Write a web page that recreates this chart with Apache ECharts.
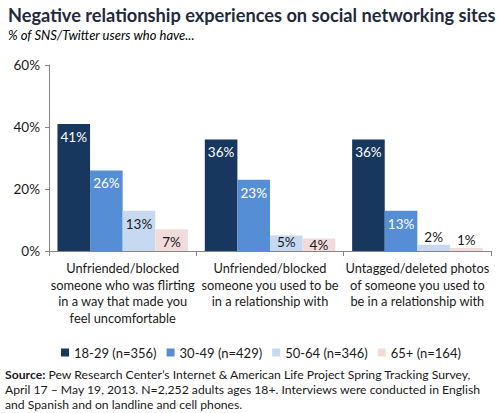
<!DOCTYPE html>
<html>
<head>
<meta charset="utf-8">
<script src="https://cdn.jsdelivr.net/npm/echarts@6/dist/echarts.min.js"></script>
<style>
  html, body { margin: 0; padding: 0; background: #fff; }
  #chart { width: 497px; height: 413px; }
</style>
</head>
<body>
<div id="chart"></div>
<script>
var categories = [
  'Unfriended/blocked\nsomeone who was flirting\nin a way that made you\nfeel uncomfortable',
  'Unfriended/blocked\nsomeone you used to be\nin a relationship with',
  'Untagged/deleted photos\nof someone you used to\nbe in a relationship with'
];
var seriesNames = ['18-29 (n=356)', '30-49 (n=429)', '50-64 (n=346)', '65+ (n=164)'];
var age18to29 = [41, 36, 36];
var age30to49 = [26, 23, 13];
var age50to64 = [13, 5, 2];
var age65plus = [7, 4, 1];
var yTicks = [0, 20, 40, 60];

var colors = ['#17375e', '#558ed5', '#c6d9f1', '#f2dcdb'];
var font = 'Lato, "Open Sans", sans-serif';

function labelFor(v) {
  if (v > 5) return { position: 'insideTop', distance: 6 };
  if (v >= 4) return { position: 'insideTop', distance: -1 };
  return { position: 'top', distance: 1 };
}

function makeSeries(name, values, color, labelColor) {
  return {
    name: name,
    type: 'bar',
    barGap: 0,
    barCategoryGap: '11.5%',
    data: values.map(function(v) {
      return { value: v, label: labelFor(v) };
    }),
    itemStyle: { color: color },
    label: {
      show: true,
      formatter: '{c}%',
      color: labelColor,
      fontFamily: font,
      fontSize: 13.5
    }
  };
}

var chart = echarts.init(document.getElementById('chart'), null, { renderer: 'svg' });
chart.setOption({
  animation: false,
  title: {
    text: 'Negative relationship experiences on social networking sites',
    left: 3, top: 1,
    textStyle: { color: '#1f2a3c', fontFamily: font, fontWeight: 'bold', fontSize: 18.2 },
    subtext: '% of SNS/Twitter users who have...',
    subtextStyle: { color: '#000', fontFamily: font, fontStyle: 'italic', fontSize: 13 },
    itemGap: 4
  },
  legend: {
    data: seriesNames,
    left: 56, top: 341,
    icon: 'rect', itemWidth: 8, itemHeight: 8, itemGap: 10,
    textStyle: { color: '#1a1a1a', fontFamily: font, fontSize: 13 }
  },
  grid: { left: 49, right: 6, top: 65, bottom: 162, containLabel: false },
  xAxis: {
    type: 'category',
    data: categories,
    axisLine: { lineStyle: { color: '#868686' } },
    axisTick: { show: true, length: 5, lineStyle: { color: '#868686' } },
    axisLabel: { color: '#1a1a1a', fontFamily: font, fontSize: 12.8, lineHeight: 16.5, margin: 9, interval: 0 }
  },
  yAxis: {
    type: 'value',
    min: yTicks[0], max: yTicks[yTicks.length - 1], interval: 20,
    axisLine: { show: true, lineStyle: { color: '#868686' } },
    axisTick: { show: true, length: 4, lineStyle: { color: '#868686' } },
    splitLine: { show: false },
    axisLabel: { formatter: '{value}%', color: '#1a1a1a', fontFamily: font, fontSize: 13.5, margin: 9 }
  },
  series: [
    makeSeries(seriesNames[0], age18to29, colors[0], '#fff'),
    makeSeries(seriesNames[1], age30to49, colors[1], '#fff'),
    makeSeries(seriesNames[2], age50to64, colors[2], '#1a1a1a'),
    makeSeries(seriesNames[3], age65plus, colors[3], '#1a1a1a')
  ],
  graphic: [{
    type: 'text',
    left: 5, top: 367,
    style: {
      text: '{b|Source:} Pew Research Center\u2019s Internet & American Life Project Spring Tracking Survey,\nApril 17 \u2013 May 19, 2013. N=2,252 adults ages 18+. Interviews were conducted in English\nand Spanish and on landline and cell phones.',
      fontFamily: font, fontSize: 12.2, lineHeight: 15, fill: '#1a1a1a',
      rich: { b: { fontWeight: 'bold', fontFamily: font, fontSize: 12.2, fill: '#1a1a1a' } }
    }
  }]
});
window.addEventListener('resize', function() { chart.resize(); });
</script>
</body>
</html>
